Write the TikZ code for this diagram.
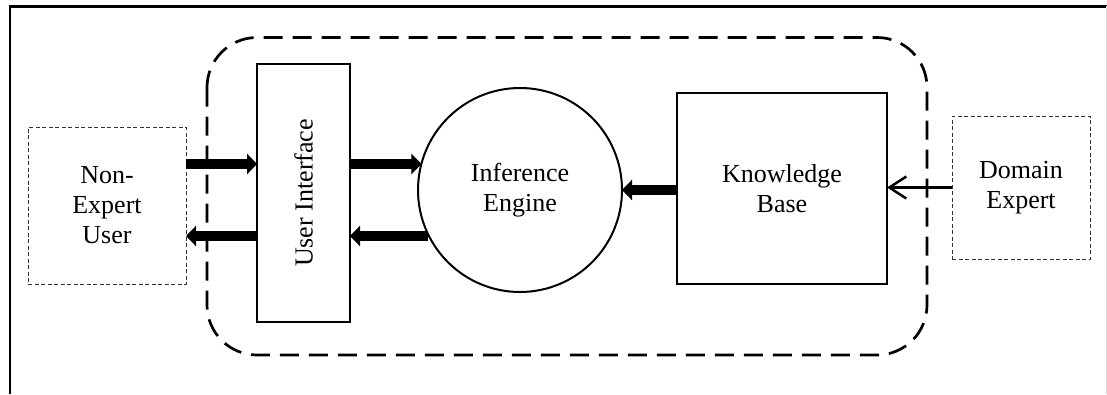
\documentclass[tikz,border=0pt]{standalone}
\usepackage{fontspec}
\setmainfont{Liberation Serif}
\usetikzlibrary{arrows.meta}

\tikzset{
  label text/.style={font=\fontsize{26}{30}\selectfont, align=center, inner sep=0pt, outer sep=0pt},
  actorbox/.style={label text, draw=black!80, line width=1pt, dash pattern=on 4pt off 2.5pt},
  partbox/.style={label text, draw, line width=2pt},
  engine/.style={label text, draw, circle, line width=2pt, minimum size=204pt},
  boundary/.style={draw, line width=2.7pt, dash pattern=on 19pt off 10pt, rounded corners=50pt},
  flow/.style={line width=10pt, -{Triangle[length=10pt,width=20pt]}},
  feed/.style={line width=2.5pt, -{Straight Barb[length=17pt,width=22pt]}},
  frame/.style={line width=2.4pt}
}

\begin{document}
\begin{tikzpicture}[x=1pt, y=-1pt]
\useasboundingbox (0,0) rectangle (1107,394);

% page frame
\draw[frame] (9.7,394) -- (9.7,6.3) -- (1107,6.3);
\draw[black!15, line width=1pt] (1106.5,6.3) -- (1106.5,394);

% expert-system boundary
\draw[boundary] (207,37.5) rectangle (927,355);

% components
\node[actorbox, minimum width=158pt, minimum height=157pt] (neu) at (107,205.5) {Non-\\Expert\\User};
\node[partbox, minimum width=93pt, minimum height=258pt] (ui) at (303.5,193) {};
\node[label text, rotate=90] (uitext) at (ui.center) {User Interface};
\node[engine] (ie) at (520,190) {Inference\\Engine};
\node[partbox, minimum width=210pt, minimum height=191pt] (kb) at (782,188.5) {Knowledge\\Base};
\node[actorbox, minimum width=138pt, minimum height=143pt] (de) at (1021,187.5) {Domain\\Expert};

% rows of the dialogue arrows
\coordinate (upper) at (0,164);
\coordinate (lower) at (0,236);

% dialogue between user, interface and engine
\draw[flow] (neu.east |- upper) -- (ui.west |- upper);
\draw[flow] (ui.west |- lower) -- (neu.east |- lower);
\draw[flow] (ui.east |- upper) -- (ie.165.2 |- upper);
\draw[flow] (ie.206.8 |- lower) -- (ui.east |- lower);

% knowledge flow
\draw[flow] (ie.east -| kb.west) -- (ie.east);
\draw[feed] (de.west) -- (de.west -| kb.east);
\end{tikzpicture}
\end{document}
